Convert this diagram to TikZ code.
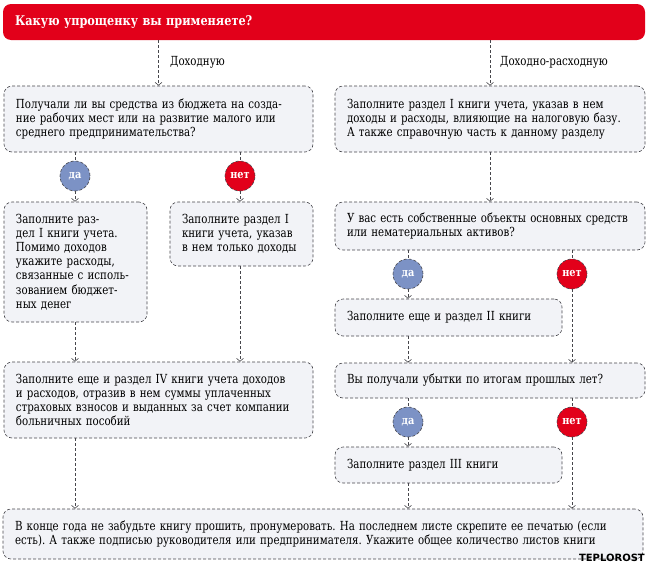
\documentclass[tikz,border=0pt]{standalone}
\usepackage{fontspec}
\setmainfont{DejaVu Serif}[FakeStretch=0.82]
\newfontfamily\hdrfont{DejaVu Serif}[FakeStretch=0.85]
\newfontfamily\wmfont{DejaVu Sans}
\usetikzlibrary{arrows.meta,calc}
\definecolor{hdrred}{RGB}{226,0,26}
\definecolor{dablue}{RGB}{124,146,197}
\definecolor{boxfill}{RGB}{242,243,247}
\definecolor{lineg}{RGB}{70,70,75}
\frenchspacing
\begin{document}
\begin{tikzpicture}[x=1pt,y=-1pt,
 font=\fontsize{12.5}{14.2}\selectfont,
 flowbox/.style={draw=lineg, densely dashed, line width=0.6pt, fill=boxfill, rounded corners=8pt, inner xsep=12pt, inner ysep=0pt, align=left},
 conn/.style={draw=lineg, densely dashed, line width=0.6pt, -{Straight Barb[length=3pt,width=7pt]}},
 plainline/.style={draw=lineg, densely dashed, line width=0.6pt},
 yesc/.style={circle, fill=dablue, draw=lineg, densely dashed, line width=0.6pt, minimum size=30pt, inner sep=0pt, text=white, font=\hdrfont\fontsize{11.5}{12}\selectfont\bfseries},
 noc/.style={yesc, fill=hdrred},
 lbl/.style={anchor=west, inner sep=0pt},
]
\useasboundingbox (0,0) rectangle (650,565);

\node[fill=hdrred, rounded corners=8pt, minimum width=642pt, minimum height=36pt, inner xsep=12pt, text width=618pt, align=left, text=white, font=\hdrfont\fontsize{13.3}{15}\selectfont\bfseries] (hdr) at (324,22) {Какую упрощенку вы применяете?};

\node[flowbox, text width=285pt, minimum height=66pt] (Q1) at (158.5,119) {Получали ли вы средства из бюджета на созда-\\ние рабочих мест или на развитие малого или\\среднего предпринимательства?};
\node[flowbox, text width=286pt, minimum height=66pt] (R1) at (490,119) {Заполните раздел I книги учета, указав в нем\\доходы и расходы, влияющие на налоговую базу.\\А также справочную часть к данному разделу};

\node[yesc] (yes1) at (75,176) {да};
\node[noc] (no1) at (240,176) {нет};

\node[flowbox, text width=119pt, minimum height=120pt] (L2) at (75.5,262) {Заполните раз-\\дел I книги учета.\\Помимо доходов\\укажите расходы,\\связанные с исполь-\\зованием бюджет-\\ных денег};
\node[flowbox, text width=119pt, minimum height=64pt] (L3) at (241.5,234) {Заполните раздел I\\книги учета, указав\\в нем только доходы};

\node[flowbox, text width=285pt, minimum height=76pt] (L4) at (158.5,400) {Заполните еще и раздел IV книги учета доходов\\и расходов, отразив в нем суммы уплаченных\\страховых взносов и выданных за счет компании\\больничных пособий};

\node[flowbox, text width=286pt, minimum height=48pt] (R2) at (490,226) {У вас есть собственные объекты основных средств\\или нематериальных активов?};
\node[yesc] (yes2) at (408,274) {да};
\node[noc] (no2) at (572,274) {нет};
\node[flowbox, text width=203pt, minimum height=37pt] (R3) at (448.5,317.5) {Заполните еще и раздел II книги};
\node[flowbox, text width=286pt, minimum height=35pt] (R4) at (490,380.5) {Вы получали убытки по итогам прошлых лет?};
\node[yesc] (yes3) at (408,422) {да};
\node[noc] (no3) at (572,422) {нет};
\node[flowbox, text width=203pt, minimum height=36pt] (R5) at (448.5,465) {Заполните раздел III книги};

\node[flowbox, text width=616pt, minimum height=50pt] (B) at (323,534) {В конце года не забудьте книгу прошить, пронумеровать. На последнем листе скрепите ее печатью (если\\есть). А также подписью руководителя или предпринимателя. Укажите общее количество листов книги};

\draw[conn] (hdr.south -| Q1.north) -- (Q1.north);
\node[lbl] (lab1) at (170,62) {Доходную};
\draw[conn] (hdr.south -| R1.north) -- (R1.north);
\node[lbl] (lab2) at (500,62) {Доходно-расходную};

\draw[plainline] (Q1.south -| yes1) -- (yes1);
\draw[conn] (yes1) -- (yes1 |- L2.north);
\draw[plainline] (Q1.south -| no1) -- (no1);
\draw[conn] (no1) -- (no1 |- L3.north);
\draw[conn] (L2.south -| yes1) -- (L4.north -| yes1);
\draw[conn] (L3.south -| no1) -- (L4.north -| no1);
\draw[conn] (L4.south -| yes1) -- (B.north -| yes1);

\draw[conn] (R1.south) -- (R2.north);
\draw[plainline] (R2.south -| yes2) -- (yes2);
\draw[conn] (yes2) -- (yes2 |- R3.north);
\draw[plainline] (R2.south -| no2) -- (no2);
\draw[conn] (no2) -- (no2 |- R4.north);
\draw[conn] (R3.south -| yes2) -- (R4.north -| yes2);
\draw[plainline] (R4.south -| yes3) -- (yes3);
\draw[conn] (yes3) -- (yes3 |- R5.north);
\draw[plainline] (R4.south -| no3) -- (no3);
\draw[conn] (no3) -- (no3 |- B.north);
\draw[conn] (R5.south -| yes3) -- (B.north -| yes3);

\node[anchor=south east, inner sep=0pt, font=\wmfont\bfseries\fontsize{10}{10}\selectfont] (wm) at (645,562) {TEPLOROST};
\end{tikzpicture}
\end{document}
